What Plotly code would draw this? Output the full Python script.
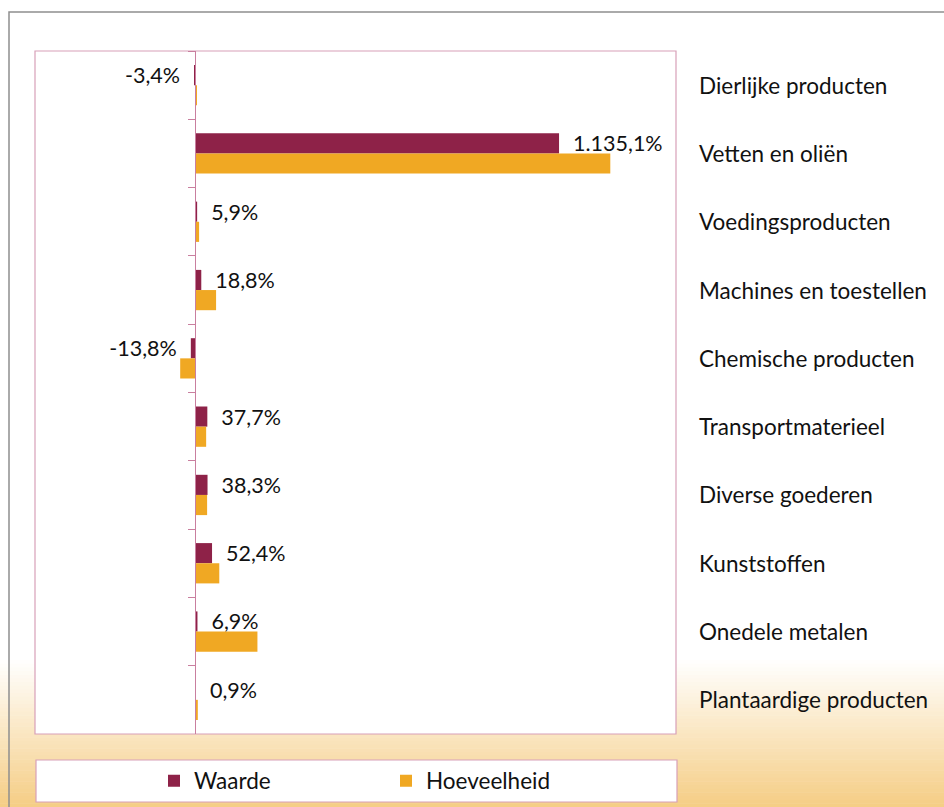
import plotly.graph_objects as go

categories = ["Dierlijke producten", "Vetten en oliën", "Voedingsproducten",
              "Machines en toestellen", "Chemische producten", "Transportmaterieel",
              "Diverse goederen", "Kunststoffen", "Onedele metalen",
              "Plantaardige producten"]
waarde = [-3.4, 1135.1, 5.9, 18.8, -13.8, 37.7, 38.3, 52.4, 6.9, 0.9]
hoeveelheid = [3, 1295, 12, 65, -47, 34, 37, 75, 194, 8]
waarde_labels = ["-3,4%", "1.135,1%", "5,9%", "18,8%", "-13,8%", "37,7%",
                 "38,3%", "52,4%", "6,9%", "0,9%"]

W, H = 944, 807
L, R, T, B = 35, 268, 51, 73
PW, PH = W - L - R, H - T - B

def xp(px):
    return (px - L) / PW

def yp(py):
    return (H - B - py) / PH

FONT = "Lato, 'Open Sans', sans-serif"
RED = "#8E2248"
ORANGE = "#F0A823"
AXIS = "#c97f9f"
BORDER = "#d7a0b8"

texts = [("\u00a0\u00a0" + t) if v >= 0 else (t + "\u00a0\u00a0") for t, v in zip(waarde_labels, waarde)]

fig = go.Figure()
fig.add_trace(go.Bar(
    y=categories, x=waarde, orientation="h", name="Waarde",
    marker=dict(color=RED, line=dict(width=0)),
    text=texts, textposition="outside", cliponaxis=False, constraintext="none",
    textfont=dict(family=FONT, size=21.5, color="#111111"),
))
fig.add_trace(go.Bar(
    y=categories, x=hoeveelheid, orientation="h", name="Hoeveelheid",
    marker=dict(color=ORANGE, line=dict(width=0)),
    textposition="none",
))

shapes = []
# background gradient near bottom
g0, g1 = 660, 807
steps = 40
c0 = (255, 255, 255)
c1 = (245, 205, 132)
for i in range(steps):
    a = g0 + (g1 - g0) * i / steps
    b = g0 + (g1 - g0) * (i + 1) / steps
    f = (i + 0.5) / steps
    c = tuple(int(round(c0[k] + (c1[k] - c0[k]) * f)) for k in range(3))
    shapes.append(dict(type="rect", xref="paper", yref="paper",
                       x0=xp(-5), x1=xp(W + 5), y0=yp(b + 0.5), y1=yp(a),
                       fillcolor="rgb(%d,%d,%d)" % c, line=dict(width=0), layer="below"))
# outer gray border
shapes.append(dict(type="rect", xref="paper", yref="paper",
                   x0=xp(9), x1=xp(W + 20), y0=yp(H + 20), y1=yp(12),
                   line=dict(color="#8f8f8f", width=1.5), fillcolor="rgba(0,0,0,0)", layer="below"))
# plot area white + border
shapes.append(dict(type="rect", xref="paper", yref="paper",
                   x0=0, x1=1, y0=0, y1=1, fillcolor="white",
                   line=dict(color=BORDER, width=1.2), layer="below"))
# legend box
shapes.append(dict(type="rect", xref="paper", yref="paper",
                   x0=xp(36), x1=xp(677), y0=yp(802), y1=yp(760), fillcolor="white",
                   line=dict(color=BORDER, width=1.2), layer="below"))

annotations = []
for c in categories:
    annotations.append(dict(x=xp(697), xref="paper", y=c, yref="y", text=c,
                            showarrow=False, xanchor="left", yanchor="middle",
                            font=dict(family=FONT, size=22.5, color="#111111")))

xmin, xmax = -500, 1500
fig.update_layout(
    width=W, height=H,
    margin=dict(l=L, r=R, t=T, b=B, autoexpand=False),
    paper_bgcolor="white", plot_bgcolor="rgba(0,0,0,0)",
    barmode="group", bargap=0.41, bargroupgap=0,
    showlegend=True,
    legend=dict(orientation="h", x=xp(154), xanchor="left", y=yp(781), yanchor="middle",
                bgcolor="rgba(0,0,0,0)", entrywidth=187, entrywidthmode="pixels",
                font=dict(family=FONT, size=22.5, color="#111111"),
                itemwidth=30, traceorder="normal"),
    xaxis=dict(range=[xmin, xmax], showgrid=False, zeroline=False, showticklabels=False,
               ticks="", showline=False, fixedrange=True),
    yaxis=dict(autorange="reversed", anchor="free", position=xp(195),
               showline=True, linecolor=AXIS, linewidth=1.2,
               ticks="outside", tickson="boundaries", ticklen=7, tickcolor=AXIS, tickwidth=1.2,
               showticklabels=False, showgrid=False, zeroline=False, fixedrange=True),
    shapes=shapes, annotations=annotations,
    font=dict(family=FONT),
)

fig.write_html("out.html", config={"displayModeBar": False},
               post_script="document.body.style.margin='0';document.body.style.overflow='hidden';")
